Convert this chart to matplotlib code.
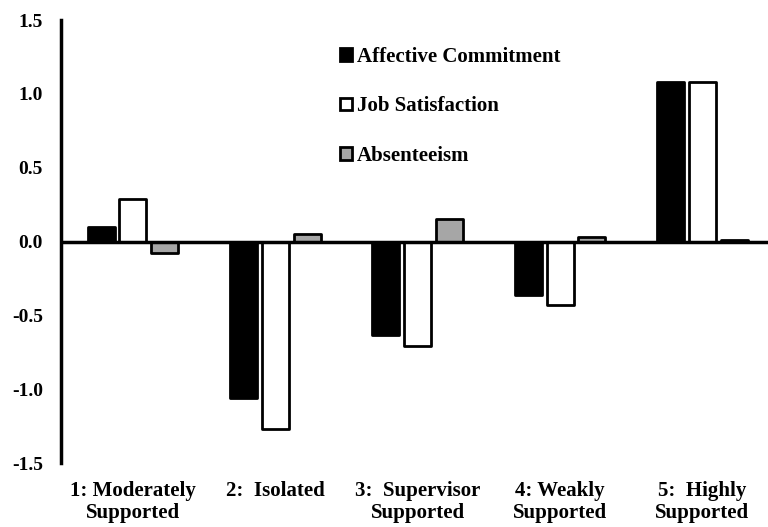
import matplotlib.pyplot as plt
import numpy as np

profiles = ['1: Moderately\nSupported', '2:  Isolated', '3:  Supervisor\nSupported',
            '4: Weakly\nSupported', '5:  Highly\nSupported']
affective = [0.10, -1.06, -0.63, -0.36, 1.08]
job_sat = [0.29, -1.27, -0.71, -0.43, 1.08]
absent = [-0.08, 0.05, 0.15, 0.03, 0.01]
series_names = ['Affective Commitment', 'Job Satisfaction', 'Absenteeism']
yticks = [-1.5, -1.0, -0.5, 0.0, 0.5, 1.0, 1.5]

plt.rcParams['font.family'] = ['Liberation Serif', 'DejaVu Serif']
plt.rcParams['font.weight'] = 'bold'

fig = plt.figure(figsize=(7.68, 5.27), dpi=100)
ax = fig.add_axes([0.0794, 0.1214, 0.9206, 0.8406])

x = np.arange(len(profiles))
w = 0.19
step = 0.223
fills = ['black', 'white', '#a6a6a6']
for i, (vals, fc) in enumerate(zip([affective, job_sat, absent], fills)):
    ax.bar(x + (i - 1) * step, vals, width=w, color=fc, edgecolor='black',
           linewidth=2, joinstyle='round', label=series_names[i], zorder=2)

ax.axhline(0, color='black', linewidth=2.5, zorder=3)
ax.set_xlim(-0.505, 4.46)
ax.set_ylim(-1.5, 1.5)
ax.set_yticks(yticks)
ax.set_yticklabels([f'{t:.1f}' for t in yticks], fontsize=14, fontweight='bold')
ax.set_xticks(x)
ax.set_xticklabels(profiles, fontsize=15, fontweight='bold', linespacing=1.12)
ax.tick_params(axis='y', length=0, pad=13)
ax.tick_params(axis='x', length=0, pad=13)
for s in ['top', 'right', 'bottom']:
    ax.spines[s].set_visible(False)
ax.spines['left'].set_linewidth(2.5)

leg = ax.legend(loc='upper left', bbox_to_anchor=(0.395, 0.94), frameon=False,
                prop={'family': 'Liberation Serif', 'weight': 'bold', 'size': 15},
                handlelength=0.55, handleheight=0.55, handletextpad=0.25,
                labelspacing=1.42, borderaxespad=0, borderpad=0)

fig.savefig('out.png', dpi=100)
